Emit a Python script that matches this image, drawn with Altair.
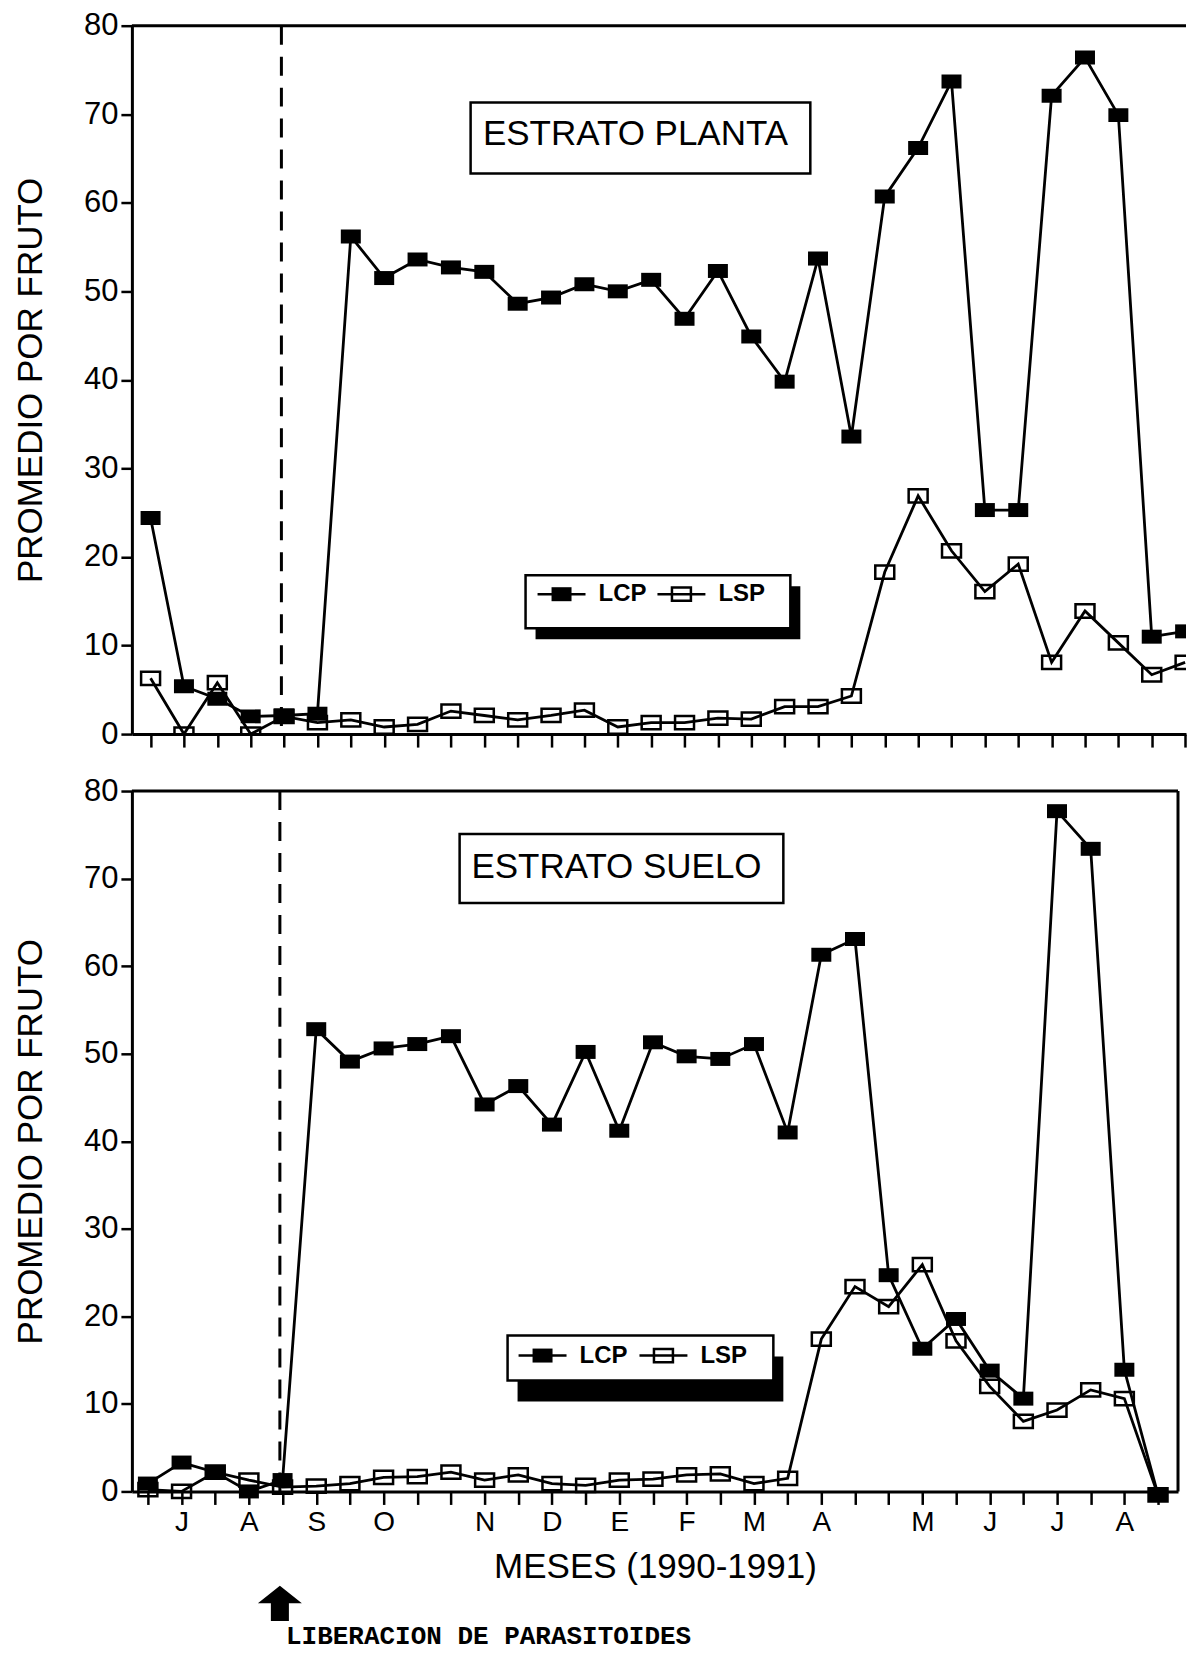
import json
import altair as alt
import pandas as pd

# ---------------- data ----------------
top_idx = list(range(32))
top_lcp = [24.4, 5.4, 4.0, 2.0, 2.1, 2.3, 56.2, 51.5, 53.6, 52.7, 52.2, 48.6, 49.3, 50.8,
           50.0, 51.3, 46.9, 52.3, 44.9, 39.8, 53.7, 33.6, 60.7, 66.2, 73.7, 25.3, 25.3,
           72.1, 76.4, 69.9, 11.0, 11.6]
top_lsp = [6.3, 0.0, 5.8, 0.0, 2.0, 1.3, 1.6, 0.8, 1.1, 2.6, 2.1, 1.6, 2.1, 2.7, 0.8, 1.3,
           1.3, 1.8, 1.7, 3.1, 3.1, 4.3, 18.3, 26.9, 20.7, 16.1, 19.2, 8.1, 13.9, 10.3,
           6.7, 8.1]

bot_idx = list(range(31))
bot_lcp = [0.9, 3.3, 2.2, 0.0, 1.3, 52.8, 49.1, 50.6, 51.1, 52.0, 44.2, 46.3, 41.9, 50.2,
           41.2, 51.3, 49.7, 49.4, 51.1, 41.0, 61.3, 63.1, 24.7, 16.3, 19.7, 13.8, 10.6,
           77.7, 73.4, 13.9, -0.4]
bot_lsp = [0.2, 0.0, 2.2, 1.3, 0.5, 0.6, 0.9, 1.6, 1.7, 2.2, 1.3, 1.9, 0.9, 0.7, 1.3, 1.4,
           1.9, 2.0, 0.9, 1.5, 17.4, 23.4, 21.1, 25.9, 17.2, 12.0, 8.0, 9.3, 11.6, 10.6,
           -0.4]

y_ticks = [0, 10, 20, 30, 40, 50, 60, 70, 80]
month_pos = [1, 3, 5, 7, 10, 12, 14, 16, 18, 20, 23, 25, 27, 29]
month_lab = ["J", "A", "S", "O", "N", "D", "E", "F", "M", "A", "M", "J", "J", "A"]
release_at = 3.92

series_names = ["LCP", "LSP"]
panel_titles = ["ESTRATO PLANTA", "ESTRATO SUELO"]
y_title = "PROMEDIO POR FRUTO"
x_title = "MESES (1990-1991)"
caption = "LIBERACION DE PARASITOIDES"

# ---------------- styling ----------------
FONT = "Liberation Sans"
RECT = "M-1,-0.7H1V0.7H-1Z"
ARROW = "M0,-0.8L1,0L0.41,0L0.41,0.8L-0.41,0.8L-0.41,0L-1,0Z"
LW = 2.8


def one():
    return alt.Chart(pd.DataFrame({"k": [0]}))


def txt(text, x, y, size, font=FONT, weight="normal", align="center"):
    return one().mark_text(text=text, font=font, fontSize=size, fontWeight=weight,
                           color="black", align=align, baseline="middle").encode(
        x=alt.value(x), y=alt.value(y))


def rect(x0, x1, y0, y1, fill, stroke=None, sw=2.5):
    kw = dict(fill=fill)
    if stroke:
        kw.update(stroke=stroke, strokeWidth=sw)
    return one().mark_rect(**kw).encode(
        x=alt.value(x0), x2=alt.value(x1), y=alt.value(y0), y2=alt.value(y1))


def hrule(x0, x1, y, sw=2.5):
    return one().mark_rule(color="black", strokeWidth=sw).encode(
        x=alt.value(x0), x2=alt.value(x1), y=alt.value(y))


def sym(x, y, filled):
    if filled:
        m = one().mark_point(shape=RECT, size=400, filled=True, color="black", opacity=1)
    else:
        m = one().mark_point(shape=RECT, size=360, filled=False, stroke="black",
                             strokeWidth=2.5, opacity=1)
    return m.encode(x=alt.value(x), y=alt.value(y))


def legend(box, shadow, cy, lcp_x, lsp_x):
    x0, x1, y0, y1 = box
    layers = [rect(x0 + shadow[0], x1 + shadow[0], y0 + shadow[1], y1 + shadow[1], "black"),
              rect(x0, x1, y0, y1, "white", "black")]
    for (lx, filled, name) in [(lcp_x, True, series_names[0]), (lsp_x, False, series_names[1])]:
        layers.append(hrule(lx - 24, lx + 24, cy, 2.5))
        layers.append(sym(lx, cy, filled))
        layers.append(txt(name, lx + 37, cy, 24, weight="bold", align="left"))
    return layers


def panel(idx, lcp, lsp, xmin, width, sx, height, bottom, title, tbox, tcenter, leg):
    xmax = xmin + width / sx
    n = len(idx)
    clip = not bottom
    df = pd.DataFrame({"i": idx + idx, "v": lcp + lsp,
                       "s": [series_names[0]] * n + [series_names[1]] * n})
    xs = alt.Scale(domain=[xmin, xmax], nice=False, zero=False)
    ys = alt.Scale(domain=[0, 80], nice=False, zero=False)
    if bottom:
        expr = (f"indexof({json.dumps(month_pos)}, datum.value) >= 0 ? "
                f"{json.dumps(month_lab)}[indexof({json.dumps(month_pos)}, datum.value)] : ''")
        xaxis = alt.Axis(values=list(idx), title=x_title, labelExpr=expr, labelOverlap=False,
                         labelFlush=False, tickSize=13, labelFontSize=28, labelPadding=4,
                         titleFontSize=35, titlePadding=13, grid=False)
    else:
        xaxis = alt.Axis(values=list(idx), title=None, labels=False, tickSize=13, grid=False)
    yaxis = alt.Axis(values=y_ticks, title=y_title, format="d", tickSize=11,
                     labelFontSize=31, labelPadding=3, titleFontSize=35, titlePadding=35,
                     grid=False)
    X = alt.X("i:Q", scale=xs, axis=xaxis)
    Y = alt.Y("v:Q", scale=ys, axis=yaxis)

    base = alt.Chart(df)
    layers = [
        one().mark_rule(color="black", strokeWidth=3, strokeDash=[19, 12]).encode(
            x=alt.X(datum=release_at, scale=xs, axis=xaxis), y=alt.value(0), y2=alt.value(height)),
        base.mark_line(color="black", strokeWidth=LW, clip=clip).encode(x=X, y=Y, detail="s:N"),
        base.transform_filter(f"datum.s == '{series_names[1]}'").mark_point(
            shape=RECT, size=360, filled=False, stroke="black", strokeWidth=2.5, opacity=1,
            clip=clip).encode(x=X, y=Y),
        base.transform_filter(f"datum.s == '{series_names[0]}'").mark_point(
            shape=RECT, size=400, filled=True, color="black", opacity=1, clip=clip
        ).encode(x=X, y=Y),
        hrule(0, width, 0, 3),
        rect(*tbox, "white", "black"),
        txt(title, tcenter[0], tcenter[1], 35),
    ]
    layers += legend(*leg)
    if bottom:
        layers.append(one().mark_rule(color="black", strokeWidth=3).encode(
            x=alt.value(width), y=alt.value(0), y2=alt.value(height)))
        layers.append(one().mark_point(shape=ARROW, size=44 * 44, filled=True, color="black",
                                       opacity=1).encode(
            x=alt.X(datum=release_at, scale=xs, axis=xaxis), y=alt.value(height + 112)))
        layers.append(txt(caption, 357, height + 145, 26, font="Liberation Mono", weight="bold"))
    return alt.layer(*layers).properties(width=width, height=height)


top = panel(top_idx, top_lcp, top_lsp, -0.56, 1055, 33.4, 709, False, panel_titles[0],
            (339, 679, 77, 148), (504, 108),
            ((394, 659, 550, 603), (10, 11), 569, 430, 550))
bot = panel(bot_idx, bot_lcp, bot_lsp, -0.475, 1047, 33.7, 701, True, panel_titles[1],
            (328, 652, 43, 112), (485, 76),
            ((376, 642, 545, 590), (10, 21), 565, 411, 532))

chart = alt.vconcat(top, bot, spacing=26).properties(
    padding={"left": 5, "top": 1, "right": 0, "bottom": 8}
).configure(background="white").configure_view(stroke=None).configure_axis(
    domainColor="black", domainWidth=3, tickColor="black", tickWidth=2.5,
    labelColor="black", titleColor="black", labelFont=FONT, titleFont=FONT,
    titleFontWeight="normal", labelFontWeight="normal")

chart.save("out.html", embed_options={"renderer": "svg", "actions": False})
